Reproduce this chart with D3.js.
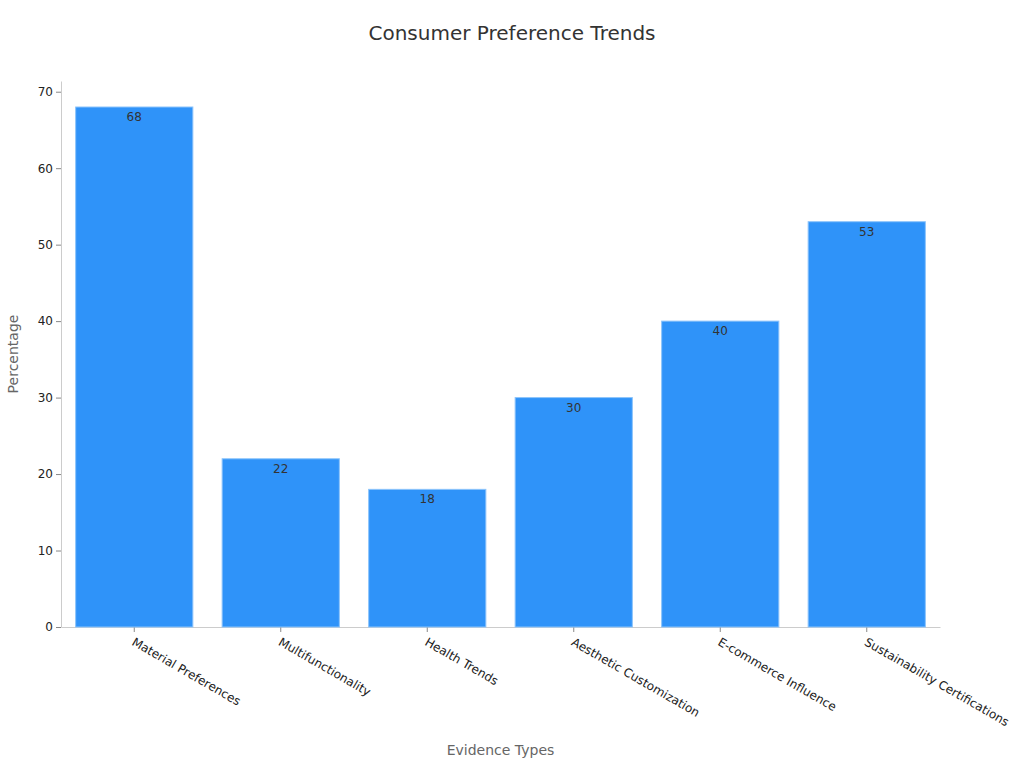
<!DOCTYPE html>
<html>
<head>
<meta charset="utf-8">
<script src="https://cdn.jsdelivr.net/npm/d3@7"></script>
<style>
  body { margin: 0; background: #fff; font-family: "DejaVu Sans", sans-serif; }
  .bar { fill: #2f93f9; stroke: #8cc4fb; stroke-width: 1; }
  .axis path, .axis line { stroke: #ccc; }
  .axis .tick line { stroke: #888; }
  .axis text { fill: #222; font-size: 12px; font-family: "DejaVu Sans", sans-serif; }
</style>
</head>
<body>
<svg id="chart" width="1024" height="768"></svg>
<script>
// categories and values
var categories = ["Material Preferences", "Multifunctionality", "Health Trends",
                  "Aesthetic Customization", "E-commerce Influence", "Sustainability Certifications"];
var percentages = [68, 22, 18, 30, 40, 53];
var yTicks = [0, 10, 20, 30, 40, 50, 60, 70];

var margin = { top: 81, right: 84, bottom: 141, left: 61 },
    width = 1024 - margin.left - margin.right,
    height = 768 - margin.top - margin.bottom;

var svg = d3.select("#chart");
var g = svg.append("g")
    .attr("transform", "translate(" + margin.left + "," + margin.top + ")");

var x = d3.scaleBand()
    .domain(categories)
    .range([0, width])
    .paddingInner(0.2)
    .paddingOuter(0.1);

var y = d3.scaleLinear()
    .domain([0, d3.max(percentages) * 1.05])
    .range([height, 0]);

// axes
g.append("g")
    .attr("class", "axis")
    .call(d3.axisLeft(y).tickValues(yTicks).tickSize(5).tickSizeOuter(0));

var xAxis = g.append("g")
    .attr("class", "axis")
    .attr("transform", "translate(0," + height + ")")
    .call(d3.axisBottom(x).tickSize(5).tickSizeOuter(0));

xAxis.selectAll("text")
    .style("text-anchor", "start")
    .attr("y", 0)
    .attr("dx", "0")
    .attr("dy", "0.71em")
    .attr("transform", "translate(1,10) rotate(30)");

// bars
g.selectAll(".bar")
    .data(percentages)
    .enter().append("rect")
    .attr("class", "bar")
    .attr("x", function (d, i) { return x(categories[i]); })
    .attr("y", function (d) { return y(d); })
    .attr("width", x.bandwidth())
    .attr("height", function (d) { return height - y(d); });

// value labels inside bar tops
g.selectAll(".value")
    .data(percentages)
    .enter().append("text")
    .attr("class", "value")
    .attr("x", function (d, i) { return x(categories[i]) + x.bandwidth() / 2; })
    .attr("y", function (d) { return y(d) + 14; })
    .attr("text-anchor", "middle")
    .style("font-size", "12px")
    .style("fill", "#333")
    .text(function (d) { return d; });

// titles
svg.append("text")
    .attr("x", 512)
    .attr("y", 40)
    .attr("text-anchor", "middle")
    .style("font-size", "20px")
    .style("fill", "#333")
    .text("Consumer Preference Trends");

svg.append("text")
    .attr("x", margin.left + width / 2)
    .attr("y", 755)
    .attr("text-anchor", "middle")
    .style("font-size", "14px")
    .style("fill", "#666")
    .text("Evidence Types");

svg.append("text")
    .attr("transform", "translate(18," + (margin.top + height / 2) + ") rotate(-90)")
    .attr("text-anchor", "middle")
    .style("font-size", "14px")
    .style("fill", "#666")
    .text("Percentage");
</script>
</body>
</html>
